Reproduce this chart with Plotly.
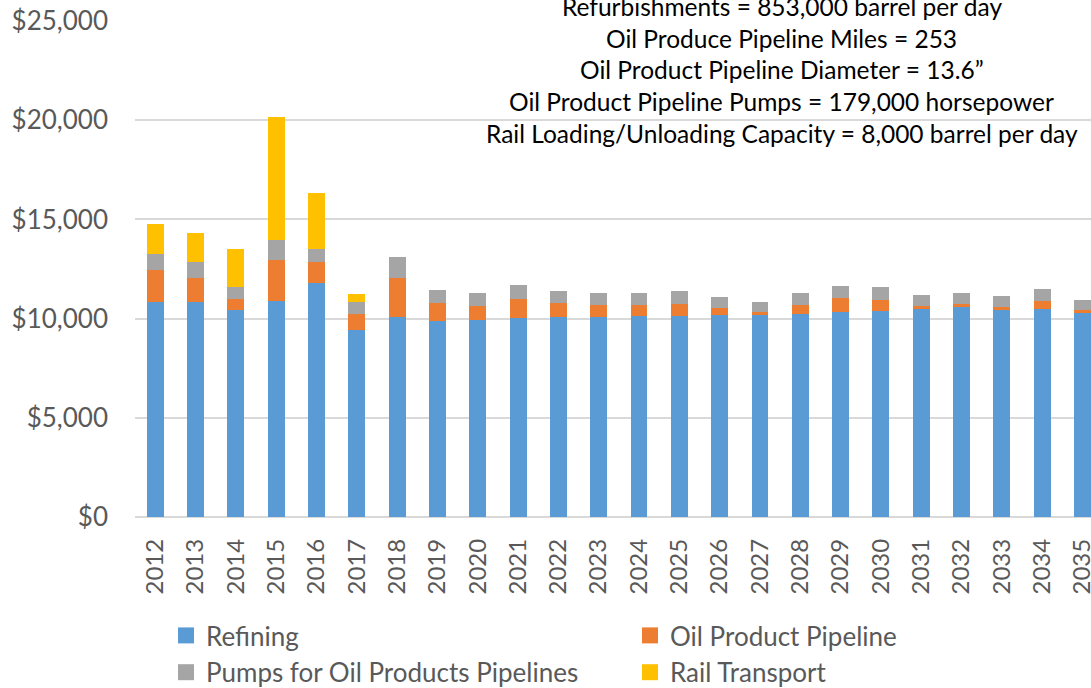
import plotly.graph_objects as go

years = [str(y) for y in range(2012, 2036)]

refining = [10850, 10850, 10450, 10900, 11800, 9450, 10060, 9880, 9950, 10050,
            10085, 10085, 10150, 10150, 10190, 10190, 10250, 10350, 10390, 10490,
            10590, 10450, 10490, 10290]
oil_product_pipeline = [1600, 1200, 540, 2050, 1070, 790, 2000, 910, 690, 940,
                        700, 600, 540, 600, 350, 165, 440, 690, 550, 150,
                        150, 140, 400, 150]
pumps = [820, 800, 590, 1020, 620, 620, 1020, 650, 650, 700,
         600, 600, 600, 640, 555, 490, 600, 600, 650, 555,
         555, 555, 600, 500]
rail_transport = [1500, 1460, 1930, 6170, 2840, 390, 0, 0, 0, 0,
                  0, 0, 0, 0, 0, 0, 0, 0, 0, 0,
                  0, 0, 0, 0]

note_lines = [
    "Refurbishments = 853,000 barrel per day",
    "Oil Produce Pipeline Miles = 253",
    "Oil Product Pipeline Diameter = 13.6\u201d",
    "Oil Product Pipeline Pumps = 179,000 horsepower",
    "Rail Loading/Unloading Capacity = 8,000 barrel per day",
]

series = [
    ("Refining", refining, "#5B9BD5"),
    ("Oil Product Pipeline", oil_product_pipeline, "#ED7D31"),
    ("Pumps for Oil Products Pipelines", pumps, "#A5A5A5"),
    ("Rail Transport", rail_transport, "#FFC000"),
]

FONT = "Lato"
TEXT = "#595959"

fig = go.Figure()
for name, vals, color in series:
    fig.add_trace(go.Bar(
        x=years, y=vals, name=name, showlegend=False, legendgroup=name,
        marker=dict(color=color, line=dict(width=0)),
    ))
# Legend entries drawn as square swatches
for name, vals, color in series:
    fig.add_trace(go.Scatter(
        x=[None], y=[None], mode="markers", name=name, legendgroup=name,
        marker=dict(symbol="square", size=17, color=color),
        hoverinfo="skip",
    ))

# Notes block: white text box in the upper right of the chart
W, H = 1091, 688
ml, mr, mt, mb = 135, 0, 21, 171
pw, ph = W - ml - mr, H - mt - mb
box_left = (405 - ml) / pw
fig.add_shape(type="rect", xref="paper", yref="paper",
              x0=box_left, x1=1.05, y0=(H - mb - 152) / ph, y1=1.1,
              fillcolor="white", line=dict(width=0), layer="between")
line_y = [7, 38.5, 70, 101.5, 133]
for txt, py in zip(note_lines, line_y):
    fig.add_annotation(
        text=txt, xref="paper", yref="paper",
        x=(781.5 - ml) / pw, y=(H - mb - py) / ph,
        xanchor="center", yanchor="middle", showarrow=False,
        font=dict(family=FONT, size=24.5, color="#000000"),
    )

fig.update_layout(
    width=W, height=H,
    margin=dict(l=ml, r=mr, t=mt, b=mb, autoexpand=False),
    barmode="stack", bargap=0.58,
    plot_bgcolor="white", paper_bgcolor="white",
    font=dict(family=FONT, color=TEXT),
    showlegend=True,
    legend=dict(
        orientation="h", x=(166 - ml) / pw, xanchor="left",
        y=(H - mb - 612) / ph, yanchor="top",
        entrywidth=419, entrywidthmode="pixels",
        font=dict(family=FONT, size=26, color=TEXT),
        traceorder="normal", tracegroupgap=0,
    ),
    xaxis=dict(
        type="category", range=[-0.5, 23.21],
        tickangle=-90, tickfont=dict(family=FONT, size=24, color=TEXT),
        showgrid=False, zeroline=False, showline=False, ticks="",
        ticklabelstandoff=16,
    ),
    yaxis=dict(
        range=[0, 25000], dtick=5000, tickprefix="$", tickformat=",d",
        tickfont=dict(family=FONT, size=26, color=TEXT),
        showgrid=True, gridcolor="#D9D9D9", gridwidth=1.5,
        zeroline=True, zerolinecolor="#D9D9D9", zerolinewidth=1.5,
        showline=False, ticks="", ticklabelstandoff=26,
    ),
)

fig.write_html("out.html")
